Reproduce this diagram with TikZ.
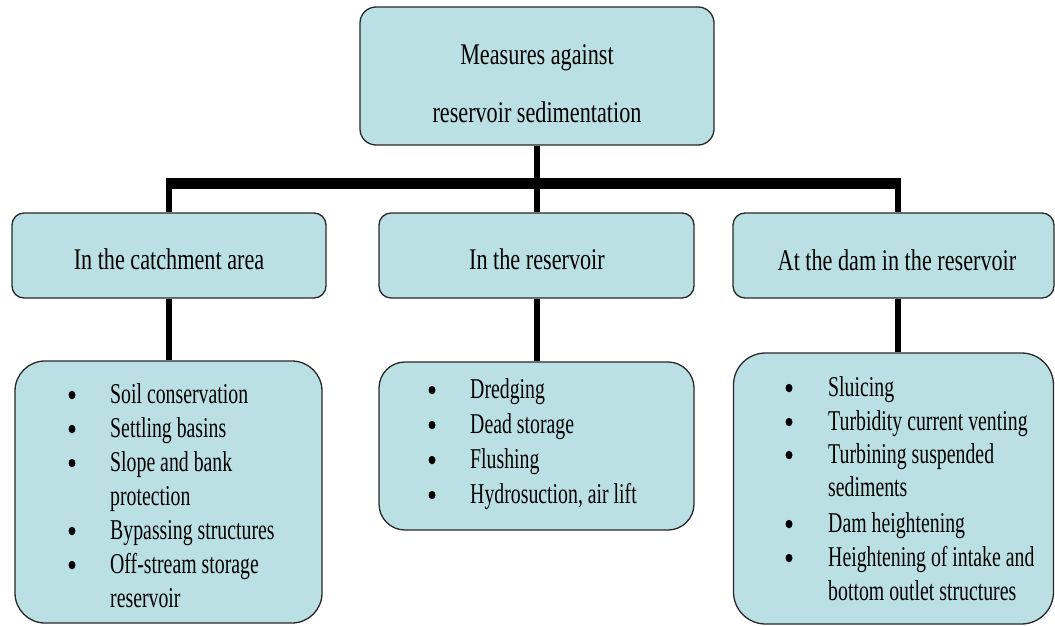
\documentclass[tikz,border=0pt]{standalone}
\usepackage{fontspec}
\usetikzlibrary{shapes.geometric}
\setmainfont{Liberation Serif}
\newfontfamily\hdfont{Liberation Serif}[FakeStretch=0.74]
\newfontfamily\lsfont{Liberation Serif}[FakeStretch=0.69]
\definecolor{boxfill}{RGB}{187,224,227}
\definecolor{boxline}{RGB}{40,40,40}
\tikzset{
  box/.style={draw=boxline, line width=1.3pt, fill=boxfill, inner sep=0pt},
  hd/.style={anchor=base, inner sep=0pt, font=\hdfont\fontsize{30}{36}\selectfont},
  itm/.style={anchor=base west, inner sep=0pt, font=\lsfont\fontsize{28.7}{34}\selectfont},
  bul/.style={ellipse, fill=black, inner sep=0pt, minimum width=7pt, minimum height=8.5pt},
  conn/.style={line width=5.5pt, black},
  barline/.style={line width=11pt, black}
}
\begin{document}
\begin{tikzpicture}[x=1pt,y=-1pt]
\useasboundingbox (0,0) rectangle (1055,626);
% boxes
\node[box, rounded corners=16pt, minimum width=354pt, minimum height=138pt] (top) at (537,76) {};
\node[box, rounded corners=12pt, minimum width=314pt, minimum height=85pt] (catch) at (169,255.5) {};
\node[box, rounded corners=12pt, minimum width=315pt, minimum height=85pt] (res) at (536.5,255.5) {};
\node[box, rounded corners=12pt, minimum width=321pt, minimum height=85pt] (dam) at (893.5,255.5) {};
\node[box, rounded corners=30pt, minimum width=307pt, minimum height=262pt] (lcatch) at (168.5,492) {};
\node[box, rounded corners=26pt, minimum width=315pt, minimum height=168pt] (lres) at (536.5,446) {};
\node[box, rounded corners=32pt, minimum width=320pt, minimum height=271pt] (ldam) at (893.5,488.5) {};
% connectors
\coordinate (bl) at (166,183.5);
\coordinate (br) at (901,183.5);
\coordinate (cl) at (169,183.5);
\coordinate (cm) at (537,183.5);
\coordinate (cr) at (898,183.5);
\draw[barline] (bl) -- (br);
\draw[conn] (top.south -| cm) -- (res.north -| cm);
\draw[conn] (cl) -- (catch.north -| cl);
\draw[conn] (cr) -- (dam.north -| cr);
\draw[conn] (catch.south -| cl) -- (lcatch.north -| cl);
\draw[conn] (res.south -| cm) -- (lres.north -| cm);
\draw[conn] (dam.south -| cr) -- (ldam.north -| cr);
% header texts
\node[hd] (t1) at (537,65) {Measures against};
\node[hd] (t2) at (537,122) {reservoir sedimentation};
\node[hd] (h1) at (169,269) {In the catchment area};
\node[hd] (h2) at (537,269) {In the reservoir};
\node[hd] (h3) at (897,270) {At the dam in the reservoir};
% left list
\foreach \y/\b/\t [count=\i] in {403/1/{Soil conservation}, 437/1/{Settling basins}, 471/1/{Slope and bank}, 505/0/{protection}, 539/1/{Bypassing structures}, 573/1/{Off-stream storage}, 607/0/{reservoir}} {
  \ifnum\b=1 \node[bul] (lb\i) at (72,\y-8) {}; \fi
  \node[itm] (lt\i) at (110,\y) {\t};
}
% middle list
\foreach \y/\b/\t [count=\i] in {398/1/{Dredging}, 433/1/{Dead storage}, 468/1/{Flushing}, 503/1/{Hydrosuction, air lift}} {
  \ifnum\b=1 \node[bul] (mb\i) at (432,\y-8) {}; \fi
  \node[itm] (mt\i) at (470,\y) {\t};
}
% right list
\foreach \y/\b/\t [count=\i] in {396/1/{Sluicing}, 430/1/{Turbidity current venting}, 463/1/{Turbining suspended}, 496/0/{sediments}, 532/1/{Dam heightening}, 566/1/{Heightening of intake and}, 600/0/{bottom outlet structures}} {
  \ifnum\b=1 \node[bul] (rb\i) at (789,\y-8) {}; \fi
  \node[itm] (rt\i) at (828,\y) {\t};
}
\end{tikzpicture}
\end{document}
